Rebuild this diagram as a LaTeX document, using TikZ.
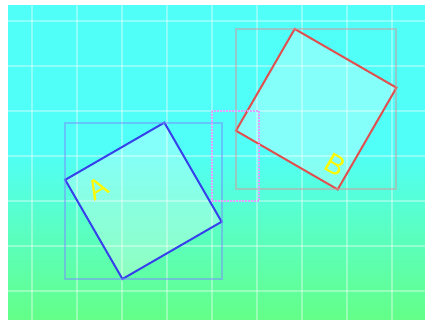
\documentclass[tikz,border=0pt]{standalone}
\usepackage{fontspec}
\setmainfont{Liberation Sans}
\usepackage{tikz}
\usetikzlibrary{positioning}
\definecolor{bgtop}{RGB}{80,255,248}
\definecolor{bgbot}{RGB}{100,255,135}
\definecolor{edgea}{RGB}{55,65,235}
\definecolor{edgeb}{RGB}{225,80,80}
\definecolor{boxa}{RGB}{120,140,255}
\definecolor{boxb}{RGB}{215,150,155}
\definecolor{gapc}{RGB}{220,160,255}
\definecolor{tagc}{RGB}{255,250,0}
\tikzstyle{sq} = [rectangle, inner sep = 0, outer sep = 0,
  line width = 2pt, fill = white, fill opacity = 0.3]
\tikzstyle{hull} = [line width = 2pt, draw opacity = 0.5]
\tikzstyle{gap} = [
  gapc, line width = 2.5pt,
  dash pattern = on 2pt off 1pt
]
\tikzstyle{tag} = [text = tagc, inner sep = 0,
  font = \fontsize{28}{28}\selectfont]
\tikzstyle{grid line} = [white, opacity = 0.35, line width = 1.5pt]

\begin{document}
\begin{tikzpicture}[x = 1pt, y = -1pt]
      \useasboundingbox (0, 0) rectangle (425, 320);
      % backdrop
      \fill [bgtop] (8, 5) rectangle (425, 151);
      \shade [top color = bgtop, bottom color = bgbot] (8, 150) rectangle (425, 320);
      \foreach \gx in {32, 77, ..., 392}
        \draw [grid line] (\gx, 5) -- (\gx, 320);
      \foreach \gy in {21, 66, ..., 291}
        \draw [grid line] (8, \gy) -- (425, \gy);
      % A
      \node [sq, draw = edgea, rotate = 30, minimum size = 114.5] (sq-a) at (143.4, 200.8) {};
      \draw [hull, boxa] (sq-a.north west |- sq-a.north east) rectangle
      (sq-a.south east |- sq-a.south west);
      % B
      \node [sq, draw = edgeb, rotate = -30, minimum size = 117.5] (sq-b) at (316.2, 109.2) {};
      \draw [hull, boxb] (sq-b.south west |- sq-b.north west) rectangle
      (sq-b.north east |- sq-b.south east);
      % gap
      \draw [gap] (212, 111) rectangle (259, 201);
      \node [tag, rotate = 30] (tag-a) at (98, 188) {A};
      \node [tag, rotate = -30] (tag-b) at (335, 165) {B};
    \end{tikzpicture}
\end{document}
